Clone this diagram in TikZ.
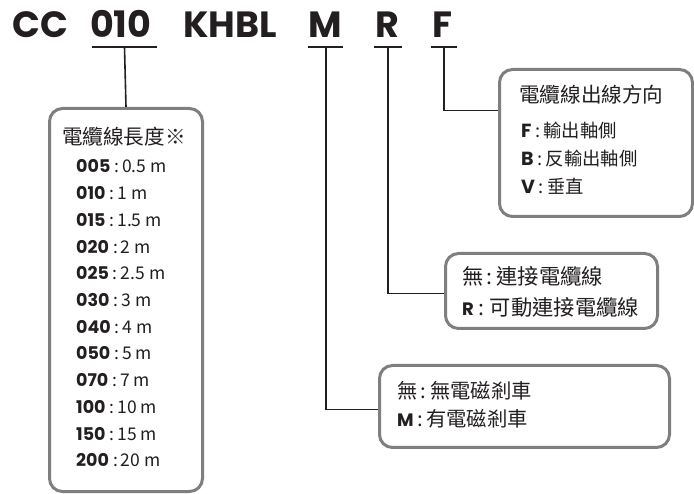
\documentclass[tikz,border=0pt]{standalone}
\usepackage{fontspec}
\setmainfont{Noto Sans CJK TC}
\newfontfamily\codefont{Poppins}
\definecolor{boxgray}{HTML}{7F7F7F}
\definecolor{ink}{HTML}{231F20}
\newcommand{\cd}[1]{{\codefont\bfseries #1}}
\newcommand{\sep}{\hspace{3.5pt}:\hspace{3.5pt}}
\begin{document}
\begin{tikzpicture}[x=1pt,y=-1pt,
  box/.style={draw=boxgray, line width=3pt, rounded corners=13pt, fill=white, anchor=north west, inner sep=0pt},
  conn/.style={draw=ink, line width=1.6pt},
  uline/.style={draw=ink, line width=2pt},
  title/.style={anchor=base west, inner sep=0pt, font=\codefont\bfseries\fontsize{36.5}{36.5}\selectfont, text=ink},
  txt/.style={anchor=base west, inner sep=0pt, text=ink},
  head/.style={txt, font=\fontsize{20.6}{20.6}\selectfont},
  rowL/.style={txt, font=\fontsize{17.5}{17.5}\selectfont},
  rowF/.style={txt, font=\fontsize{18.3}{18.3}\selectfont},
  rowR/.style={txt, font=\fontsize{21.3}{21.3}\selectfont},
  rowM/.style={txt, font=\fontsize{20.3}{20.3}\selectfont}]
\useasboundingbox (0,0) rectangle (694,494);
% title
\node[title] (tCC) at (12,38) {CC};
\node[title] (t010) at (90,38) {010};
\node[title] (tK) at (183,38) {KHBL};
\node[title] (tM) at (308,38) {M};
\node[title] (tR) at (375,38) {R};
\node[title] (tF) at (432,38) {F};
% underlines
\draw[uline] (92,47) -- (157,47);
\draw[uline] (308,47) -- (343,47);
\draw[uline] (374,47) -- (402,47);
\draw[uline] (431,47) -- (457,47);
\coordinate (u010) at (124.5,47);
\coordinate (uM) at (326,47);
\coordinate (uR) at (388,47);
\coordinate (uF) at (444,47);
% boxes
\node[box, minimum width=153pt, minimum height=383pt] (lbox) at (48,107) {};
\node[box, minimum width=193pt, minimum height=147pt] (fbox) at (498,68) {};
\node[box, minimum width=212pt, minimum height=75pt] (rbox) at (444,252) {};
\node[box, minimum width=290pt, minimum height=82pt] (mbox) at (378,364) {};
% connectors
\draw[conn] (u010) -- (lbox.north);
\draw[conn] (uM) |- ([yshift=-3pt]mbox.west);
\draw[conn] (uR) |- ([yshift=-2.5pt]rbox.west);
\draw[conn] (uF) |- ([yshift=32.5pt]fbox.west);
% left box text
\node[head] (lhead) at (62,145) {電纜線長度※};
\foreach \c/\v [count=\i from 0] in {005/0.5 m,010/1 m,015/1.5 m,020/2 m,025/2.5 m,030/3 m,040/4 m,050/5 m,070/7 m,100/10 m,150/15 m,200/20 m}{
  \node[rowL] (l\i) at (76,173+26.7*\i) {{\fontsize{17.5}{17.5}\selectfont\cd{\c}}\hspace{4pt}:\hspace{3pt}\v};
}
% F box text
\node[head] (fhead) at (519,103) {電纜線出線方向};
\node[rowF] (f1) at (521,138) {{\fontsize{19}{19}\selectfont\cd{F}}\sep 輸出軸側};
\node[rowF] (f2) at (521,166) {{\fontsize{19}{19}\selectfont\cd{B}}\sep 反輸出軸側};
\node[rowF] (f3) at (521,194) {{\fontsize{19}{19}\selectfont\cd{V}}\sep 垂直};
% R box text
\node[rowR] (r1) at (462,285) {無\sep 連接電纜線};
\node[rowR] (r2) at (462,316) {{\fontsize{18}{18}\selectfont\cd{R}}\hspace{5pt}:\hspace{5pt}可動連接電纜線};
% M box text
\node[rowM] (m1) at (397,399) {無\sep 無電磁剎車};
\node[rowM] (m2) at (397,427) {{\fontsize{18}{18}\selectfont\cd{M}}\sep 有電磁剎車};
\end{tikzpicture}
\end{document}
